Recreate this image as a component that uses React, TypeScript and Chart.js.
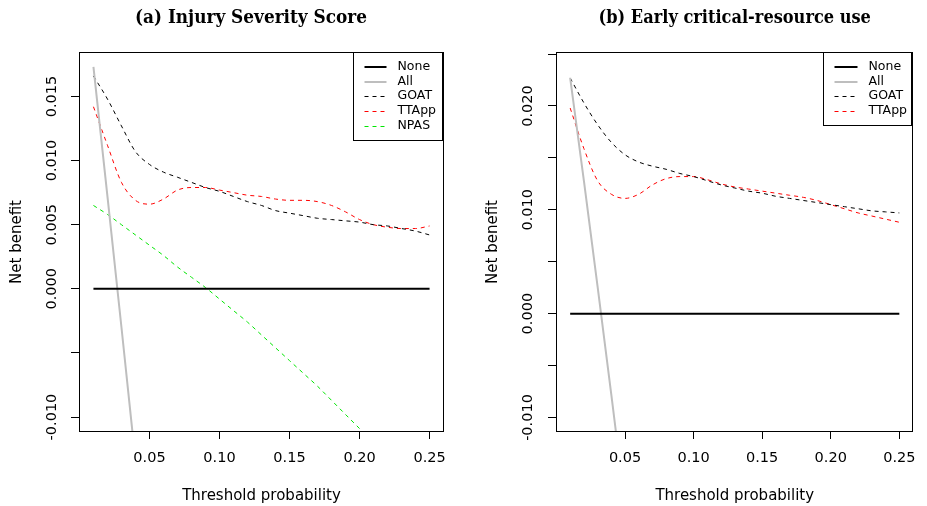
import React, { useEffect, useRef } from 'react';
import { Chart, registerables } from 'chart.js';

Chart.register(...registerables);

// ---------- data ----------
const thresholds = [
  0.01, 0.02, 0.03, 0.04, 0.05, 0.06, 0.07, 0.08, 0.09, 0.10,
  0.11, 0.12, 0.13, 0.14, 0.15, 0.16, 0.17, 0.18, 0.19, 0.20,
  0.21, 0.22, 0.23, 0.24, 0.25,
];
const noneX = [0.01, 0.25];
const noneY = [0, 0];

// Panel (a) Injury Severity Score
const allXA = [0.01, 0.02, 0.03, 0.04, 0.05];
const allYA = [0.0173, 0.0072, -0.0030, -0.0134, -0.0241];
const goatA = [
  0.0166, 0.0148, 0.0127, 0.0107, 0.0097, 0.0091, 0.0087, 0.0083, 0.0079, 0.0076,
  0.0072, 0.0068, 0.0065, 0.0061, 0.0059, 0.0057, 0.0055, 0.0054, 0.0053, 0.0052,
  0.0050, 0.0049, 0.0047, 0.0045, 0.0042,
];
const ttappA = [
  0.0142, 0.0112, 0.0083, 0.0069, 0.0066, 0.0070, 0.0077, 0.0079, 0.0079, 0.0077,
  0.0075, 0.0073, 0.0072, 0.0070, 0.0069, 0.0069, 0.0068, 0.0065, 0.0060, 0.0054,
  0.0050, 0.0048, 0.0047, 0.0047, 0.0049,
];
const npasXA = [
  0.01, 0.02, 0.03, 0.04, 0.05, 0.06, 0.07, 0.08, 0.09, 0.10,
  0.11, 0.12, 0.13, 0.14, 0.15, 0.16, 0.17, 0.18, 0.19, 0.20, 0.21,
];
const npasYA = [
  0.0065, 0.0058, 0.0050, 0.0042, 0.0034, 0.0026, 0.0017, 0.0009, 0.0001, -0.0008,
  -0.0017, -0.0026, -0.0036, -0.0046, -0.0056, -0.0066, -0.0076, -0.0087, -0.0098, -0.0109, -0.0120,
];

// Panel (b) Early critical-resource use
const allXB = [0.01, 0.02, 0.03, 0.04, 0.05];
const allYB = [0.0227, 0.0128, 0.0026, -0.0078, -0.0184];
const goatB = [
  0.0227, 0.0203, 0.0182, 0.0165, 0.0153, 0.0146, 0.0142, 0.0139, 0.0135, 0.0132,
  0.0128, 0.0124, 0.0121, 0.0118, 0.0116, 0.0113, 0.0111, 0.0109, 0.0107, 0.0105,
  0.0103, 0.0101, 0.0099, 0.0098, 0.0097,
];
const ttappB = [
  0.0198, 0.0159, 0.0128, 0.0115, 0.0111, 0.0115, 0.0124, 0.0130, 0.0132, 0.0132,
  0.0129, 0.0125, 0.0122, 0.0120, 0.0118, 0.0116, 0.0114, 0.0112, 0.0109, 0.0105,
  0.0101, 0.0097, 0.0094, 0.0091, 0.0088,
];

// ticks
const xTicks = [0.05, 0.10, 0.15, 0.20, 0.25];
const xTickLabels = ['0.05', '0.10', '0.15', '0.20', '0.25'];
const yTicksA = [-0.01, -0.005, 0, 0.005, 0.01, 0.015];
const yTickLabelsA = ['-0.010', '', '0.000', '0.005', '0.010', '0.015'];
const yTicksB = [-0.01, -0.005, 0, 0.005, 0.01, 0.015, 0.02, 0.025];
const yTickLabelsB = ['-0.010', '', '0.000', '', '0.010', '', '0.020', ''];

const xRange = [0.0004, 0.2596];
const yRangeA = [-0.01109, 0.01839];
const yRangeB = [-0.0113, 0.0251];

// ---------- styling ----------
const SANS = "'DejaVu Sans', sans-serif";
const SERIF = "'DejaVu Serif Condensed', 'DejaVu Serif', serif";
const DASH = [4, 4];

const pts = (xs: number[], ys: number[]) => xs.map((x, i) => ({ x, y: ys[i] }));

const boxPlugin = {
  id: 'plotBox',
  afterDatasetsDraw(chart: any) {
    const { ctx, chartArea: a } = chart;
    ctx.save();
    ctx.strokeStyle = '#000';
    ctx.lineWidth = 1;
    ctx.setLineDash([]);
    ctx.strokeRect(Math.round(a.left) - 0.5, Math.round(a.top) - 0.5,
      Math.round(a.right - a.left) + 1, Math.round(a.bottom - a.top) + 1);
    ctx.restore();
  },
};

const insetLegend = {
  id: 'insetLegend',
  afterDraw(chart: any, _args: any, opts: any) {
    if (!opts || !opts.width) return;
    const { ctx, chartArea: a } = chart;
    const x1 = Math.round(a.right) - 0.5;
    const y0 = Math.round(a.top) - 0.5;
    const x0 = x1 - opts.width;
    ctx.save();
    ctx.fillStyle = '#fff';
    ctx.fillRect(x0, y0, opts.width, opts.height);
    ctx.strokeStyle = '#000';
    ctx.lineWidth = 1;
    ctx.setLineDash([]);
    ctx.strokeRect(x0, y0, opts.width, opts.height);
    chart.data.datasets.forEach((ds: any, i: number) => {
      const y = Math.round(y0 + opts.first + i * opts.row);
      const off = ds.borderWidth === 1 ? 0.5 : 0;
      ctx.beginPath();
      ctx.setLineDash(ds.borderDash || []);
      ctx.strokeStyle = ds.borderColor;
      ctx.lineWidth = ds.borderWidth;
      ctx.moveTo(x0 + opts.lineStart, y + off);
      ctx.lineTo(x0 + opts.lineEnd, y + off);
      ctx.stroke();
      ctx.setLineDash([]);
      ctx.fillStyle = '#000';
      ctx.font = `12.5px ${SANS}`;
      ctx.textAlign = 'left';
      ctx.textBaseline = 'middle';
      ctx.fillText(ds.label, x0 + opts.textStart, y);
    });
    ctx.restore();
  },
};

type PanelSpec = {
  title: string;
  titleFull: boolean;
  titleSize: number;
  titlePadTop: number;
  datasets: any[];
  yRange: number[];
  yTicks: number[];
  yTickLabels: string[];
  yAxisWidth: number;
  yTickPad: number;
  yTitlePad: number;
  rightSpace: number;
  legend: any;
};

function makeConfig(p: PanelSpec): any {
  const titleLine = p.titleSize * 1.2;
  return {
    type: 'line',
    data: { datasets: p.datasets },
    plugins: [boxPlugin, insetLegend],
    options: {
      responsive: false,
      animation: false,
      events: [],
      layout: { padding: 0 },
      elements: { point: { radius: 0, hoverRadius: 0 } },
      plugins: {
        legend: { display: false },
        tooltip: { enabled: false },
        title: {
          display: true,
          text: p.title,
          fullSize: p.titleFull,
          color: '#000',
          font: { family: SERIF, size: p.titleSize, weight: 'bold', lineHeight: 1.2 },
          padding: { top: p.titlePadTop, bottom: 53 - p.titlePadTop - titleLine },
        },
        insetLegend: p.legend,
      },
      scales: {
        x: {
          type: 'linear',
          position: 'bottom',
          min: xRange[0],
          max: xRange[1],
          afterBuildTicks: (s: any) => { s.ticks = xTicks.map((v) => ({ value: v })); },
          afterFit: (s: any) => { s.height = 75; },
          grid: { display: true, drawOnChartArea: false, drawTicks: true, tickLength: 8, tickColor: '#000', tickWidth: 1 },
          border: { display: false },
          ticks: {
            autoSkip: false, maxRotation: 0, minRotation: 0, padding: 11, color: '#000',
            font: { family: SANS, size: 14.5 },
            callback: (_v: any, i: number) => xTickLabels[i],
          },
          title: {
            display: true, text: 'Threshold probability', color: '#000',
            font: { family: SANS, size: 15 }, padding: { top: 0, bottom: 1 },
          },
        },
        y: {
          type: 'linear',
          position: 'left',
          min: p.yRange[0],
          max: p.yRange[1],
          afterBuildTicks: (s: any) => { s.ticks = p.yTicks.map((v) => ({ value: v })); },
          afterFit: (s: any) => { s.width = p.yAxisWidth; },
          grid: { display: true, drawOnChartArea: false, drawTicks: true, tickLength: 9, tickColor: '#000', tickWidth: 1 },
          border: { display: false },
          ticks: {
            autoSkip: false, minRotation: 90, maxRotation: 90, crossAlign: 'center',
            padding: p.yTickPad, color: '#000',
            font: { family: SANS, size: 14.5 },
            callback: (_v: any, i: number) => p.yTickLabels[i],
          },
          title: {
            display: true, text: 'Net benefit', color: '#000',
            font: { family: SANS, size: 15 }, padding: { top: p.yTitlePad, bottom: 0 },
          },
        },
        // empty right-hand margin (keeps the plot box where the figure has it)
        yMargin: {
          type: 'linear',
          position: 'right',
          display: true,
          grid: { display: false, drawTicks: false },
          border: { display: false },
          ticks: { display: false },
          afterFit: (s: any) => { s.width = p.rightSpace; },
        },
      },
    },
  };
}

const lineDs = (label: string, data: any[], color: string, width: number, dash: number[], smooth: boolean) => ({
  label, data, borderColor: color, backgroundColor: color, borderWidth: width,
  borderDash: dash, fill: false, clip: 0, pointRadius: 0,
  cubicInterpolationMode: smooth ? 'monotone' : 'default', tension: 0,
});

const specA: PanelSpec = {
  title: '(a) Injury Severity Score',
  titleFull: true,
  titleSize: 18.8,
  titlePadTop: 7,
  datasets: [
    lineDs('None', pts(noneX, noneY), '#000000', 2, [], false),
    lineDs('All', pts(allXA, allYA), '#bebebe', 2, [], false),
    lineDs('GOAT', pts(thresholds, goatA), '#000000', 1, DASH, true),
    lineDs('TTApp', pts(thresholds, ttappA), '#ff0000', 1, DASH, true),
    lineDs('NPAS', pts(npasXA, npasYA), '#00e600', 1, DASH, true),
  ],
  yRange: yRangeA,
  yTicks: yTicksA,
  yTickLabels: yTickLabelsA,
  yAxisWidth: 80,
  yTickPad: -5,
  yTitlePad: 8,
  rightSpace: 59,
  legend: { width: 89, height: 88, first: 14.5, row: 14.7, lineStart: 11, lineEnd: 33, textStart: 44 },
};

const specB: PanelSpec = {
  title: '(b) Early critical-resource use',
  titleFull: false,
  titleSize: 18,
  titlePadTop: 7.5,
  datasets: [
    lineDs('None', pts(noneX, noneY), '#000000', 2, [], false),
    lineDs('All', pts(allXB, allYB), '#bebebe', 2, [], false),
    lineDs('GOAT', pts(thresholds, goatB), '#000000', 1, DASH, true),
    lineDs('TTApp', pts(thresholds, ttappB), '#ff0000', 1, DASH, true),
  ],
  yRange: yRangeB,
  yTicks: yTicksB,
  yTickLabels: yTickLabelsB,
  yAxisWidth: 94,
  yTickPad: -3.5,
  yTitlePad: 21,
  rightSpace: 9,
  legend: { width: 88, height: 73, first: 14.5, row: 14.7, lineStart: 11, lineEnd: 34, textStart: 45 },
};

function Panel({ spec, left, width }: { spec: PanelSpec; left: number; width: number }) {
  const ref = useRef<HTMLCanvasElement>(null);
  useEffect(() => {
    const chart = new Chart(ref.current as HTMLCanvasElement, makeConfig(spec));
    return () => chart.destroy();
  }, []);
  return (
    <canvas
      ref={ref}
      width={width}
      height={506}
      style={{ position: 'absolute', left, top: 0, width, height: 506 }}
    />
  );
}

export default function App() {
  return (
    <div style={{ position: 'fixed', left: 0, top: 0, width: 927, height: 506, background: '#fff', overflow: 'hidden' }}>
      <Panel spec={specA} left={0} width={502} />
      <Panel spec={specB} left={463} width={464} />
    </div>
  );
}
